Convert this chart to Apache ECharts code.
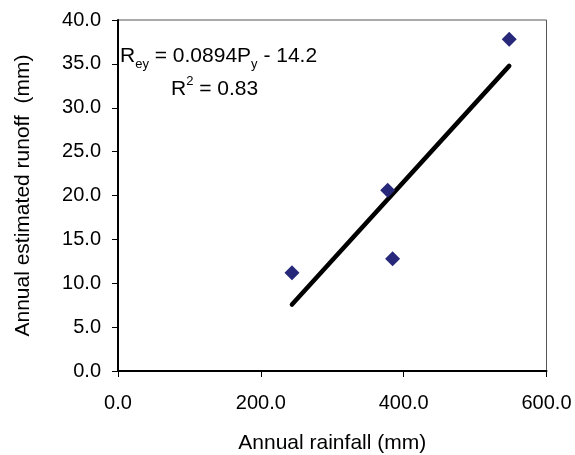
<!DOCTYPE html>
<html>
<head>
    <meta charset="UTF-8">
    <title>Runoff vs rainfall</title>
    <script src="https://cdn.jsdelivr.net/npm/echarts@6/dist/echarts.min.js"></script>
    <style>
        html, body { margin: 0; padding: 0; background: #fff; }
        #chart { width: 575px; height: 455px; }
    </style>
</head>
<body>
<div id="chart"></div>
<script>
    // values
    var rainfall = [243.6, 377.6, 384.5, 547.8];   // mm
    var runoff = [11.2, 20.6, 12.8, 37.8];         // mm
    var slope = 0.0894;
    var intercept = -14.2;
    var rSquared = 0.83;

    var points = rainfall.map(function (x, i) { return [x, runoff[i]]; });

    // trend line spans the observed rainfall
    var xMin = Math.min.apply(null, rainfall);
    var xMax = Math.max.apply(null, rainfall);
    var trend = [xMin, xMax].map(function (x) { return [x, slope * x + intercept]; });

    var font = 'Liberation Sans, Arial, sans-serif';

    var chart = echarts.init(document.getElementById('chart'), null, {renderer: 'canvas'});
    chart.setOption({
        animation: false,
        backgroundColor: '#fff',
        grid: {
            left: 118, top: 20, right: 28.5, bottom: 84,
            outerBoundsMode: 'none',
            show: true, borderColor: '#555', borderWidth: 1
        },
        xAxis: {
            type: 'value', min: 0, max: 600, interval: 200,
            name: 'Annual rainfall (mm)', nameLocation: 'middle', nameGap: 62,
            nameTextStyle: {color: '#000', fontSize: 21, fontFamily: font},
            axisLine: {show: true, lineStyle: {color: '#000', width: 2}},
            axisTick: {show: true, length: 6, lineStyle: {color: '#000', width: 1}},
            axisLabel: {
                color: '#000', fontSize: 20, fontFamily: font, margin: 22,
                formatter: function (v) { return v.toFixed(1); }
            },
            splitLine: {show: false}
        },
        yAxis: {
            type: 'value', min: 0, max: 40, interval: 5,
            name: 'Annual estimated runoff  (mm)', nameLocation: 'middle', nameGap: 84,
            nameTextStyle: {color: '#000', fontSize: 21, fontFamily: font},
            axisLine: {show: true, lineStyle: {color: '#000', width: 2}},
            axisTick: {show: true, length: 6, lineStyle: {color: '#000', width: 1}},
            axisLabel: {
                color: '#000', fontSize: 20, fontFamily: font, margin: 17,
                formatter: function (v) { return v.toFixed(1); }
            },
            splitLine: {show: false}
        },
        graphic: [{
            type: 'text',
            left: 120, top: 46,
            style: {
                text: 'R{sub|ey} = ' + slope + 'P{sub|y} - ' + Math.abs(intercept).toFixed(1),
                fill: '#000', font: '21px ' + font,
                rich: {
                    sub: {fontSize: 13, fontFamily: font, verticalAlign: 'bottom', lineHeight: 28}
                }
            }
        }, {
            type: 'text',
            left: 171, top: 75,
            style: {
                text: 'R{sup|2} = ' + rSquared.toFixed(2),
                fill: '#000', font: '21px ' + font,
                rich: {
                    sup: {fontSize: 13, fontFamily: font, verticalAlign: 'top', lineHeight: 28}
                }
            }
        }],
        series: [{
            type: 'line',
            data: trend,
            symbol: 'none',
            lineStyle: {color: '#000', width: 4.5, cap: 'round'},
            z: 2
        }, {
            type: 'scatter',
            data: points,
            symbol: 'diamond',
            symbolSize: 15,
            itemStyle: {color: '#28287a', opacity: 1},
            z: 3
        }]
    });
</script>
</body>
</html>
